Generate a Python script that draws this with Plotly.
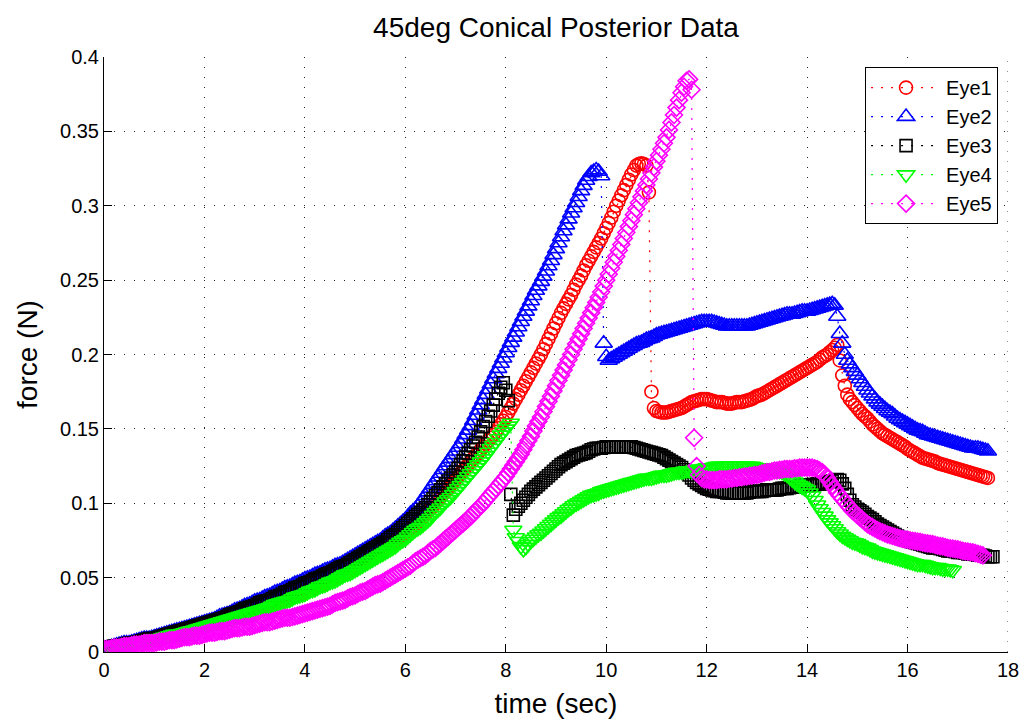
import numpy as np
import plotly.graph_objects as go

series_names = ["Eye1", "Eye2", "Eye3", "Eye4", "Eye5"]
time_step = 0.05  # sampling interval (s); each list starts at t = 0

eye1 = [
    0.0020,0.0025,0.0030,0.0030,0.0030,0.0035,0.0040,0.0045,0.0050,0.0050,0.0050,0.0055,0.0060,0.0060,0.0060,0.0065,0.0070,0.0075,0.0080,0.0080,
    0.0080,0.0085,0.0090,0.0095,0.0100,0.0105,0.0110,0.0110,0.0110,0.0115,0.0120,0.0125,0.0130,0.0135,0.0140,0.0145,0.0150,0.0155,0.0160,0.0165,
    0.0170,0.0175,0.0180,0.0185,0.0190,0.0195,0.0200,0.0205,0.0210,0.0215,0.0220,0.0225,0.0230,0.0235,0.0240,0.0250,0.0260,0.0265,0.0270,0.0275,
    0.0280,0.0285,0.0290,0.0295,0.0300,0.0305,0.0310,0.0320,0.0330,0.0335,0.0340,0.0345,0.0350,0.0355,0.0360,0.0370,0.0380,0.0385,0.0390,0.0395,
    0.0400,0.0410,0.0420,0.0425,0.0430,0.0440,0.0450,0.0455,0.0460,0.0470,0.0480,0.0485,0.0490,0.0500,0.0510,0.0520,0.0530,0.0535,0.0540,0.0550,
    0.0560,0.0570,0.0580,0.0590,0.0600,0.0610,0.0620,0.0630,0.0640,0.0650,0.0660,0.0675,0.0690,0.0700,0.0710,0.0725,0.0740,0.0755,0.0770,0.0785,
    0.0800,0.0815,0.0830,0.0845,0.0860,0.0875,0.0890,0.0910,0.0930,0.0945,0.0960,0.0980,0.1000,0.1020,0.1040,0.1060,0.1080,0.1100,0.1120,0.1140,
    0.1160,0.1180,0.1200,0.1220,0.1240,0.1260,0.1280,0.1300,0.1320,0.1340,0.1360,0.1380,0.1400,0.1420,0.1440,0.1460,0.1480,0.1505,0.1530,0.1555,
    0.1580,0.1610,0.1640,0.1670,0.1700,0.1730,0.1760,0.1790,0.1820,0.1850,0.1880,0.1910,0.1940,0.1970,0.2000,0.2035,0.2070,0.2105,0.2140,0.2175,
    0.2210,0.2245,0.2280,0.2310,0.2340,0.2370,0.2400,0.2435,0.2470,0.2500,0.2530,0.2565,0.2600,0.2630,0.2660,0.2690,0.2720,0.2750,0.2780,0.2815,
    0.2850,0.2885,0.2920,0.2960,0.3000,0.3035,0.3070,0.3105,0.3140,0.3175,0.3210,0.3240,0.3270,0.3280,0.3285,0.3280,0.3270,0.3090,0.1750,0.1640,
    0.1620,0.1615,0.1610,0.1610,0.1610,0.1615,0.1620,0.1625,0.1630,0.1635,0.1640,0.1650,0.1660,0.1670,0.1680,0.1685,0.1690,0.1695,0.1700,0.1700,
    0.1700,0.1695,0.1690,0.1685,0.1680,0.1680,0.1680,0.1675,0.1670,0.1670,0.1670,0.1675,0.1680,0.1680,0.1680,0.1685,0.1690,0.1695,0.1700,0.1710,
    0.1720,0.1725,0.1730,0.1740,0.1750,0.1760,0.1770,0.1780,0.1790,0.1800,0.1810,0.1820,0.1830,0.1840,0.1850,0.1860,0.1870,0.1880,0.1890,0.1900,
    0.1910,0.1920,0.1930,0.1940,0.1950,0.1965,0.1980,0.1990,0.2000,0.2015,0.2030,0.2045,0.2065,0.1960,0.1860,0.1790,0.1730,0.1700,0.1680,0.1660,
    0.1640,0.1620,0.1600,0.1585,0.1570,0.1550,0.1530,0.1515,0.1500,0.1485,0.1470,0.1460,0.1450,0.1440,0.1430,0.1420,0.1410,0.1400,0.1390,0.1380,
    0.1365,0.1355,0.1345,0.1335,0.1325,0.1315,0.1305,0.1300,0.1295,0.1290,0.1285,0.1280,0.1270,0.1265,0.1260,0.1255,0.1250,0.1245,0.1240,0.1235,
    0.1230,0.1225,0.1220,0.1215,0.1210,0.1205,0.1200,0.1195,0.1190,0.1185,0.1180,0.1175,0.1170,
]

eye2 = [
    0.0020,0.0025,0.0030,0.0035,0.0040,0.0045,0.0050,0.0055,0.0060,0.0060,0.0060,0.0065,0.0070,0.0075,0.0080,0.0085,0.0090,0.0090,0.0090,0.0095,
    0.0100,0.0105,0.0110,0.0115,0.0120,0.0125,0.0130,0.0135,0.0140,0.0145,0.0150,0.0155,0.0160,0.0165,0.0170,0.0175,0.0180,0.0185,0.0190,0.0195,
    0.0200,0.0205,0.0210,0.0215,0.0220,0.0230,0.0240,0.0245,0.0250,0.0255,0.0260,0.0270,0.0280,0.0285,0.0290,0.0300,0.0310,0.0315,0.0320,0.0330,
    0.0340,0.0345,0.0350,0.0360,0.0370,0.0375,0.0380,0.0390,0.0400,0.0405,0.0410,0.0420,0.0430,0.0435,0.0440,0.0450,0.0460,0.0465,0.0470,0.0480,
    0.0490,0.0495,0.0500,0.0510,0.0520,0.0525,0.0530,0.0540,0.0550,0.0555,0.0560,0.0570,0.0580,0.0585,0.0590,0.0600,0.0610,0.0620,0.0630,0.0640,
    0.0650,0.0660,0.0670,0.0680,0.0690,0.0700,0.0710,0.0720,0.0730,0.0740,0.0750,0.0765,0.0780,0.0790,0.0800,0.0815,0.0830,0.0845,0.0860,0.0875,
    0.0890,0.0910,0.0930,0.0945,0.0960,0.0980,0.1000,0.1025,0.1050,0.1075,0.1100,0.1125,0.1150,0.1175,0.1200,0.1225,0.1250,0.1275,0.1300,0.1325,
    0.1350,0.1375,0.1400,0.1430,0.1460,0.1490,0.1520,0.1555,0.1590,0.1625,0.1660,0.1695,0.1730,0.1765,0.1800,0.1835,0.1870,0.1905,0.1940,0.1975,
    0.2010,0.2045,0.2080,0.2115,0.2150,0.2185,0.2220,0.2255,0.2290,0.2325,0.2360,0.2395,0.2430,0.2460,0.2490,0.2525,0.2560,0.2595,0.2630,0.2670,
    0.2710,0.2750,0.2790,0.2830,0.2870,0.2910,0.2950,0.2985,0.3020,0.3060,0.3100,0.3135,0.3170,0.3195,0.3220,0.3230,0.3240,0.3230,0.3200,0.2075,
    0.1985,0.1960,0.1970,0.1980,0.1990,0.2000,0.2010,0.2020,0.2030,0.2040,0.2050,0.2060,0.2070,0.2075,0.2080,0.2090,0.2100,0.2105,0.2110,0.2120,
    0.2130,0.2135,0.2140,0.2145,0.2150,0.2155,0.2160,0.2165,0.2170,0.2175,0.2180,0.2185,0.2190,0.2195,0.2200,0.2205,0.2210,0.2215,0.2220,0.2220,
    0.2220,0.2220,0.2220,0.2215,0.2210,0.2205,0.2200,0.2195,0.2190,0.2190,0.2190,0.2190,0.2190,0.2190,0.2190,0.2190,0.2190,0.2195,0.2200,0.2205,
    0.2210,0.2215,0.2220,0.2225,0.2230,0.2235,0.2240,0.2245,0.2250,0.2255,0.2260,0.2265,0.2270,0.2270,0.2270,0.2275,0.2280,0.2285,0.2290,0.2290,
    0.2290,0.2295,0.2300,0.2305,0.2310,0.2315,0.2320,0.2325,0.2330,0.2335,0.2340,0.2330,0.2255,0.2140,0.2075,0.2000,0.1960,0.1935,0.1910,0.1885,
    0.1860,0.1835,0.1810,0.1785,0.1760,0.1740,0.1720,0.1700,0.1680,0.1665,0.1650,0.1635,0.1620,0.1610,0.1600,0.1585,0.1570,0.1560,0.1550,0.1540,
    0.1530,0.1520,0.1510,0.1500,0.1490,0.1485,0.1480,0.1470,0.1460,0.1455,0.1450,0.1445,0.1440,0.1435,0.1430,0.1425,0.1420,0.1415,0.1410,0.1405,
    0.1400,0.1395,0.1390,0.1385,0.1380,0.1375,0.1370,0.1370,0.1370,0.1365,0.1360,0.1355,0.1350,
]

eye3 = [
    0.0020,0.0025,0.0030,0.0035,0.0040,0.0040,0.0040,0.0045,0.0050,0.0055,0.0060,0.0060,0.0060,0.0065,0.0070,0.0075,0.0080,0.0085,0.0090,0.0090,
    0.0090,0.0095,0.0100,0.0105,0.0110,0.0115,0.0120,0.0125,0.0130,0.0135,0.0140,0.0145,0.0150,0.0155,0.0160,0.0165,0.0170,0.0175,0.0180,0.0185,
    0.0190,0.0195,0.0200,0.0205,0.0210,0.0215,0.0220,0.0225,0.0230,0.0240,0.0250,0.0255,0.0260,0.0265,0.0270,0.0280,0.0290,0.0295,0.0300,0.0305,
    0.0310,0.0320,0.0330,0.0335,0.0340,0.0345,0.0350,0.0360,0.0370,0.0375,0.0380,0.0390,0.0400,0.0405,0.0410,0.0420,0.0430,0.0435,0.0440,0.0450,
    0.0460,0.0465,0.0470,0.0480,0.0490,0.0495,0.0500,0.0510,0.0520,0.0525,0.0530,0.0540,0.0550,0.0560,0.0570,0.0575,0.0580,0.0590,0.0600,0.0610,
    0.0620,0.0630,0.0640,0.0650,0.0660,0.0670,0.0680,0.0690,0.0700,0.0710,0.0720,0.0730,0.0740,0.0755,0.0770,0.0780,0.0790,0.0805,0.0820,0.0835,
    0.0850,0.0865,0.0880,0.0895,0.0910,0.0925,0.0940,0.0955,0.0970,0.0990,0.1010,0.1030,0.1050,0.1070,0.1090,0.1110,0.1130,0.1150,0.1170,0.1190,
    0.1210,0.1235,0.1260,0.1285,0.1310,0.1335,0.1360,0.1385,0.1410,0.1445,0.1480,0.1515,0.1550,0.1585,0.1620,0.1660,0.1700,0.1740,0.1780,0.1810,
    0.1760,0.1690,0.1060,0.0920,0.0960,0.0980,0.1000,0.1020,0.1040,0.1060,0.1080,0.1095,0.1110,0.1125,0.1140,0.1155,0.1170,0.1185,0.1200,0.1215,
    0.1230,0.1245,0.1260,0.1270,0.1280,0.1290,0.1300,0.1310,0.1320,0.1325,0.1330,0.1335,0.1340,0.1350,0.1360,0.1365,0.1370,0.1370,0.1370,0.1375,
    0.1380,0.1380,0.1380,0.1380,0.1380,0.1380,0.1380,0.1380,0.1380,0.1380,0.1380,0.1375,0.1370,0.1365,0.1360,0.1355,0.1350,0.1345,0.1340,0.1335,
    0.1330,0.1325,0.1320,0.1310,0.1300,0.1290,0.1280,0.1270,0.1260,0.1250,0.1240,0.1225,0.1210,0.1190,0.1170,0.1155,0.1140,0.1130,0.1120,0.1110,
    0.1100,0.1095,0.1090,0.1085,0.1080,0.1080,0.1080,0.1075,0.1070,0.1070,0.1070,0.1070,0.1070,0.1070,0.1070,0.1070,0.1070,0.1075,0.1080,0.1080,
    0.1080,0.1080,0.1080,0.1085,0.1090,0.1090,0.1090,0.1090,0.1090,0.1095,0.1100,0.1100,0.1100,0.1105,0.1110,0.1110,0.1110,0.1115,0.1120,0.1120,
    0.1120,0.1120,0.1125,0.1125,0.1130,0.1130,0.1130,0.1135,0.1140,0.1145,0.1150,0.1155,0.1160,0.1155,0.1130,0.1100,0.1060,0.1020,0.0990,0.0975,
    0.0960,0.0950,0.0940,0.0925,0.0910,0.0900,0.0890,0.0875,0.0860,0.0850,0.0840,0.0830,0.0820,0.0810,0.0800,0.0790,0.0780,0.0770,0.0760,0.0755,
    0.0750,0.0745,0.0740,0.0735,0.0730,0.0725,0.0720,0.0715,0.0710,0.0705,0.0700,0.0700,0.0700,0.0695,0.0690,0.0685,0.0680,0.0680,0.0680,0.0675,
    0.0670,0.0670,0.0670,0.0665,0.0660,0.0660,0.0660,0.0655,0.0650,0.0650,0.0650,0.0645,0.0640,0.0640,0.0640,
]

eye4 = [
    0.0020,0.0025,0.0030,0.0030,0.0030,0.0035,0.0040,0.0045,0.0050,0.0050,0.0050,0.0055,0.0060,0.0065,0.0070,0.0070,0.0070,0.0075,0.0080,0.0085,
    0.0090,0.0090,0.0090,0.0095,0.0100,0.0105,0.0110,0.0115,0.0120,0.0120,0.0120,0.0125,0.0130,0.0135,0.0140,0.0145,0.0150,0.0155,0.0160,0.0165,
    0.0170,0.0175,0.0180,0.0185,0.0190,0.0195,0.0200,0.0205,0.0210,0.0215,0.0220,0.0225,0.0230,0.0235,0.0240,0.0245,0.0250,0.0255,0.0260,0.0265,
    0.0270,0.0275,0.0280,0.0285,0.0290,0.0295,0.0300,0.0310,0.0320,0.0325,0.0330,0.0335,0.0340,0.0345,0.0350,0.0360,0.0370,0.0375,0.0380,0.0385,
    0.0390,0.0400,0.0410,0.0415,0.0420,0.0430,0.0440,0.0445,0.0450,0.0460,0.0470,0.0475,0.0480,0.0490,0.0500,0.0510,0.0520,0.0525,0.0530,0.0540,
    0.0550,0.0560,0.0570,0.0580,0.0590,0.0600,0.0610,0.0620,0.0630,0.0640,0.0650,0.0660,0.0670,0.0680,0.0690,0.0700,0.0710,0.0725,0.0740,0.0750,
    0.0760,0.0775,0.0790,0.0805,0.0820,0.0830,0.0840,0.0855,0.0870,0.0885,0.0900,0.0920,0.0940,0.0955,0.0970,0.0990,0.1010,0.1025,0.1040,0.1060,
    0.1080,0.1100,0.1120,0.1140,0.1160,0.1180,0.1200,0.1220,0.1240,0.1260,0.1280,0.1300,0.1320,0.1345,0.1370,0.1390,0.1410,0.1435,0.1460,0.1480,
    0.1500,0.1520,0.1540,0.0820,0.0770,0.0745,0.0710,0.0690,0.0705,0.0725,0.0745,0.0760,0.0775,0.0790,0.0800,0.0815,0.0830,0.0845,0.0860,0.0875,
    0.0890,0.0905,0.0915,0.0930,0.0945,0.0960,0.0970,0.0985,0.0995,0.1005,0.1015,0.1025,0.1035,0.1045,0.1055,0.1060,0.1065,0.1070,0.1080,0.1085,
    0.1090,0.1095,0.1100,0.1105,0.1110,0.1115,0.1120,0.1125,0.1130,0.1135,0.1140,0.1145,0.1150,0.1155,0.1160,0.1165,0.1170,0.1170,0.1170,0.1175,
    0.1180,0.1185,0.1190,0.1190,0.1190,0.1195,0.1200,0.1205,0.1210,0.1210,0.1210,0.1215,0.1220,0.1220,0.1220,0.1225,0.1230,0.1230,0.1230,0.1235,
    0.1240,0.1240,0.1240,0.1245,0.1250,0.1250,0.1250,0.1250,0.1250,0.1250,0.1250,0.1250,0.1250,0.1250,0.1250,0.1250,0.1250,0.1250,0.1250,0.1245,
    0.1240,0.1240,0.1240,0.1235,0.1230,0.1230,0.1230,0.1225,0.1220,0.1215,0.1210,0.1200,0.1190,0.1175,0.1160,0.1145,0.1130,0.1120,0.1110,0.1100,
    0.1090,0.1070,0.1050,0.1020,0.0990,0.0965,0.0940,0.0915,0.0890,0.0870,0.0850,0.0830,0.0810,0.0795,0.0780,0.0770,0.0760,0.0750,0.0740,0.0735,
    0.0730,0.0720,0.0710,0.0705,0.0700,0.0690,0.0680,0.0675,0.0670,0.0665,0.0660,0.0655,0.0650,0.0645,0.0640,0.0635,0.0630,0.0625,0.0620,0.0615,
    0.0610,0.0605,0.0600,0.0595,0.0590,0.0590,0.0590,0.0585,0.0580,0.0575,0.0570,0.0570,0.0570,0.0565,0.0560,0.0560,0.0560,0.0555,0.0550,
]

eye5 = [
    0.0020,0.0020,0.0020,0.0025,0.0030,0.0030,0.0030,0.0035,0.0040,0.0040,0.0040,0.0045,0.0050,0.0050,0.0050,0.0055,0.0060,0.0060,0.0060,0.0060,
    0.0060,0.0065,0.0070,0.0070,0.0070,0.0075,0.0080,0.0080,0.0080,0.0085,0.0090,0.0095,0.0100,0.0100,0.0100,0.0105,0.0110,0.0110,0.0110,0.0115,
    0.0120,0.0125,0.0130,0.0130,0.0130,0.0135,0.0140,0.0140,0.0140,0.0145,0.0150,0.0155,0.0160,0.0160,0.0160,0.0165,0.0170,0.0170,0.0170,0.0175,
    0.0180,0.0185,0.0190,0.0195,0.0200,0.0200,0.0200,0.0205,0.0210,0.0215,0.0220,0.0225,0.0230,0.0230,0.0230,0.0235,0.0240,0.0245,0.0250,0.0255,
    0.0260,0.0265,0.0270,0.0275,0.0280,0.0285,0.0290,0.0295,0.0300,0.0305,0.0310,0.0320,0.0330,0.0335,0.0340,0.0345,0.0350,0.0360,0.0370,0.0375,
    0.0380,0.0390,0.0400,0.0405,0.0410,0.0420,0.0430,0.0440,0.0450,0.0455,0.0460,0.0470,0.0480,0.0490,0.0500,0.0510,0.0520,0.0530,0.0540,0.0550,
    0.0560,0.0570,0.0580,0.0595,0.0610,0.0620,0.0630,0.0640,0.0650,0.0665,0.0680,0.0690,0.0700,0.0715,0.0730,0.0745,0.0760,0.0775,0.0790,0.0805,
    0.0820,0.0835,0.0850,0.0865,0.0880,0.0895,0.0910,0.0930,0.0950,0.0965,0.0980,0.1000,0.1020,0.1040,0.1060,0.1080,0.1100,0.1120,0.1140,0.1160,
    0.1180,0.1205,0.1230,0.1255,0.1280,0.1305,0.1330,0.1360,0.1390,0.1420,0.1450,0.1485,0.1520,0.1550,0.1580,0.1615,0.1650,0.1685,0.1720,0.1755,
    0.1790,0.1825,0.1860,0.1895,0.1930,0.1965,0.2000,0.2035,0.2070,0.2105,0.2140,0.2175,0.2210,0.2245,0.2280,0.2315,0.2350,0.2385,0.2420,0.2460,
    0.2500,0.2540,0.2580,0.2620,0.2660,0.2700,0.2740,0.2780,0.2820,0.2860,0.2900,0.2940,0.2980,0.3020,0.3060,0.3100,0.3140,0.3180,0.3220,0.3260,
    0.3300,0.3340,0.3380,0.3420,0.3460,0.3510,0.3560,0.3610,0.3660,0.3710,0.3760,0.3800,0.3840,0.3850,0.3780,0.1440,0.1250,0.1190,0.1170,0.1160,
    0.1160,0.1155,0.1155,0.1155,0.1155,0.1160,0.1160,0.1160,0.1160,0.1165,0.1165,0.1170,0.1170,0.1175,0.1175,0.1180,0.1180,0.1185,0.1185,0.1190,
    0.1190,0.1195,0.1200,0.1205,0.1210,0.1210,0.1215,0.1220,0.1220,0.1225,0.1225,0.1230,0.1230,0.1230,0.1230,0.1235,0.1235,0.1240,0.1240,0.1240,
    0.1240,0.1240,0.1240,0.1235,0.1230,0.1220,0.1210,0.1195,0.1170,0.1145,0.1120,0.1095,0.1070,0.1050,0.1030,0.1010,0.0990,0.0970,0.0950,0.0935,
    0.0920,0.0905,0.0890,0.0875,0.0860,0.0850,0.0840,0.0830,0.0820,0.0812,0.0805,0.0798,0.0790,0.0785,0.0780,0.0775,0.0770,0.0765,0.0760,0.0755,
    0.0755,0.0750,0.0748,0.0745,0.0742,0.0740,0.0735,0.0732,0.0730,0.0727,0.0725,0.0720,0.0715,0.0712,0.0710,0.0705,0.0700,0.0697,0.0695,0.0692,
    0.0690,0.0685,0.0680,0.0677,0.0675,0.0672,0.0670,0.0665,0.0660,0.0655,0.0650,
]

x_ticks = [0, 2, 4, 6, 8, 10, 12, 14, 16, 18]
y_ticks = [0, 0.05, 0.1, 0.15, 0.2, 0.25, 0.3, 0.35, 0.4]
y_tick_labels = ["0", "0.05", "0.1", "0.15", "0.2", "0.25", "0.3", "0.35", "0.4"]
x_range = [0, 18]
y_range = [0, 0.4]

all_values = [eye1, eye2, eye3, eye4, eye5]
colors = ["#FF0000", "#0000FF", "#000000", "#00FF00", "#FF00FF"]
symbols = ["circle-open", "triangle-up-open", "square-open", "triangle-down-open", "diamond-open"]
sizes = [13, 15, 12, 15, 13]

fig = go.Figure()
for name, vals, col, sym, sz in zip(series_names, all_values, colors, symbols, sizes):
    t = np.round(np.arange(len(vals)) * time_step, 3)
    fig.add_trace(go.Scatter(
        x=t, y=vals, name=name, mode="lines+markers",
        line=dict(color=col, width=1.2, dash="2px,8px"),
        marker=dict(symbol=sym, size=sz, color=col, line=dict(color=col, width=1.6)),
    ))

grid_color = "#222222"
grid_dash = "1px,9px"
# dotted grid line on the right edge of the axes (x = 18)
fig.add_shape(type="line", xref="x", yref="y", x0=x_range[1], x1=x_range[1],
              y0=y_range[0], y1=y_range[1], layer="below",
              line=dict(color=grid_color, width=1, dash=grid_dash))

font_family = "Liberation Sans, Arial, Helvetica, sans-serif"
W, H = 1026, 721
fig.update_layout(
    width=W, height=H,
    margin=dict(l=104, r=W - 1008, t=57, b=H - 652),
    plot_bgcolor="white", paper_bgcolor="white",
    font=dict(family=font_family, size=20, color="black"),
    title=dict(text="45deg Conical Posterior Data", x=0.5, xref="paper", xanchor="center",
               y=1 - 27 / H, yref="container", yanchor="middle",
               font=dict(family=font_family, size=28, color="black")),
    showlegend=True,
    legend=dict(x=0.989, y=0.983, xanchor="right", yanchor="top",
                bgcolor="white", bordercolor="black", borderwidth=1, itemwidth=70,
                font=dict(family=font_family, size=20, color="black")),
)
fig.update_xaxes(
    range=x_range, tickvals=x_ticks, ticks="inside", ticklen=8, tickcolor="black",
    showline=True, linecolor="black", linewidth=1, mirror=False, automargin=False,
    ticklabeloverflow="allow",
    showgrid=True, gridcolor=grid_color, gridwidth=1, griddash=grid_dash, zeroline=False,
    title=dict(text="time (sec)", font=dict(size=28), standoff=13),
)
fig.update_yaxes(
    range=y_range, tickvals=y_ticks, ticktext=y_tick_labels, ticks="inside", ticklen=8,
    tickcolor="black", showline=True, linecolor="black", linewidth=1, mirror=False, automargin=False,
    ticklabeloverflow="allow",
    showgrid=True, gridcolor=grid_color, gridwidth=1, griddash=grid_dash, zeroline=False,
    title=dict(text="force (N)", font=dict(size=28), standoff=14),
)

fig.write_html(
    "out.html",
    config={"displayModeBar": False},
    post_script="document.body.style.margin='0px';document.body.style.overflow='hidden';",
)
